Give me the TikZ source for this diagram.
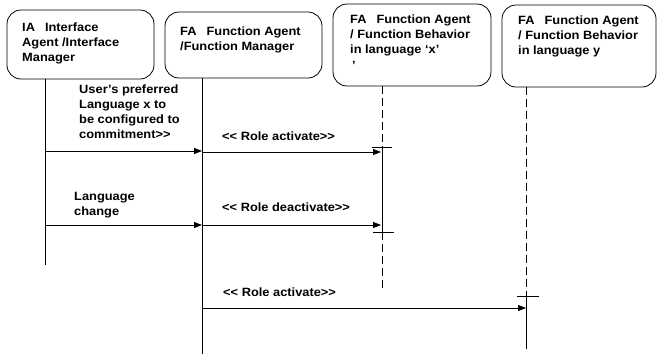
\documentclass[tikz,border=0pt]{standalone}
\usepackage{fontspec}
\setmainfont{Liberation Sans}[FakeStretch=1.07]
\usetikzlibrary{arrows.meta}
\newcommand{\gapsp}{\hspace{10pt}}
\begin{document}
\begin{tikzpicture}[x=1pt,y=-1pt,
  every node/.style={font=\fontsize{12}{15}\selectfont\bfseries},
  agentbox/.style={draw,line width=0.8pt,rounded corners=14pt,minimum width=#1,inner sep=0pt},
  boxtext/.style={anchor=north west,inner sep=0pt,align=left},
  msgtext/.style={anchor=north west,inner sep=0pt,align=left},
  life/.style={line width=0.8pt},
  lifedash/.style={line width=0.8pt,dash pattern=on 8pt off 4pt},
  msg/.style={line width=0.8pt,-{Triangle[length=8pt,width=6pt]}},
  tick/.style={line width=0.8pt}]
\useasboundingbox (0,0) rectangle (658,354);

% agent boxes
\node[agentbox=147pt,minimum height=69pt] (ia)  at (80.5,44.5) {};
\node[agentbox=157pt,minimum height=66pt] (fam) at (243.5,45) {};
\node[agentbox=158pt,minimum height=82pt] (fax) at (412,45) {};
\node[agentbox=154pt,minimum height=82pt] (fay) at (579,46) {};

\node[boxtext] (iat)  at (22,23)  {IA\gapsp Interface\\Agent /Interface\\Manager};
\node[boxtext] (famt) at (180,27) {FA\gapsp Function Agent\\/Function Manager};
\node[boxtext] (faxt) at (350,15) {FA\gapsp Function Agent\\/ Function Behavior\\in language `x'\\[1pt]\,'};
\node[boxtext] (fayt) at (518,16) {FA\gapsp Function Agent\\/ Function Behavior\\in language y};

% lifeline coordinates
\coordinate (l1a) at (45,79);   \coordinate (l1b) at (45,265);
\coordinate (l2a) at (202,78);  \coordinate (l2b) at (202,354);
\coordinate (l3a) at (382,86);  \coordinate (l3s) at (382,147);
\coordinate (l3e) at (382,232); \coordinate (l3b) at (382,290);
\coordinate (l4a) at (526,87);  \coordinate (l4s) at (526,296);
\coordinate (l4b) at (526,349);

\draw[life] (l1a) -- (l1b);
\draw[life] (l2a) -- (l2b);
\draw[lifedash] (l3a) -- (l3s);
\draw[life] (l3s) -- (l3e);
\draw[lifedash] (l3e) -- (l3b);
\draw[lifedash] (l4a) -- (l4s);
\draw[life] (l4s) -- (l4b);

% activation ticks
\coordinate (t1a) at (372,147); \coordinate (t1b) at (392,147);
\coordinate (t2a) at (373,232); \coordinate (t2b) at (394,232);
\coordinate (t3a) at (517,296); \coordinate (t3b) at (539,296);
\draw[tick] (t1a) -- (t1b);
\draw[tick] (t2a) -- (t2b);
\draw[tick] (t3a) -- (t3b);

% messages
\coordinate (m1a) at (45,151);  \coordinate (m1b) at (202,151);
\coordinate (m2a) at (202,152); \coordinate (m2b) at (381,152);
\coordinate (m3a) at (45,225);  \coordinate (m3b) at (202,225);
\coordinate (m4a) at (202,225); \coordinate (m4b) at (381,225);
\coordinate (m5a) at (202,308); \coordinate (m5b) at (526,308);
\draw[msg] (m1a) -- (m1b);
\draw[msg] (m2a) -- (m2b);
\draw[msg] (m3a) -- (m3b);
\draw[msg] (m4a) -- (m4b);
\draw[msg] (m5a) -- (m5b);

\node[msgtext] (lab1) at (79,85)   {User's preferred\\Language x to\\be configured to\\commitment>{}>};
\node[msgtext] (lab2) at (222,132) {<{}< Role activate>{}>};
\node[msgtext] (lab3) at (74,192)  {Language\\change};
\node[msgtext] (lab4) at (222,203) {<{}< Role deactivate>{}>};
\node[msgtext] (lab5) at (223,288) {<{}< Role activate>{}>};
\end{tikzpicture}
\end{document}
